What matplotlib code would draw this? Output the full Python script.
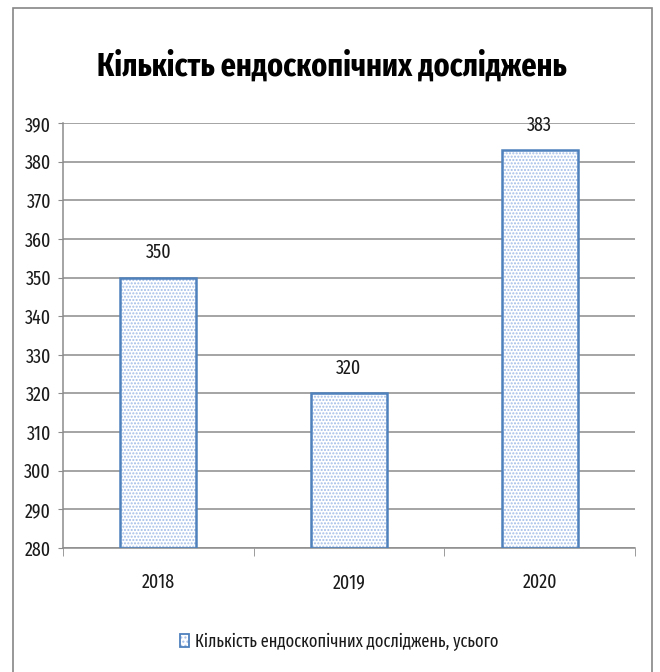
import matplotlib
matplotlib.use("Agg")
import matplotlib.pyplot as plt
from matplotlib.patches import Rectangle

years = ["2018", "2019", "2020"]
counts = [350, 320, 383]
y_ticks = list(range(280, 391, 10))
title = "Кількість ендоскопічних досліджень"
series_name = "Кількість ендоскопічних досліджень, усього"

plt.rcParams["font.family"] = ["Fira Sans Extra Condensed", "DejaVu Sans"]
plt.rcParams["hatch.linewidth"] = 1.0

W, H = 660, 672
fig = plt.figure(figsize=(W / 100, H / 100), dpi=100)

grid_col = "#8c8c8c"
text_col = "#1a1a1a"
dot_col = "#a3bde8"
edge_col = "#4f81bd"

# outer chart frame
fig.patches.append(Rectangle((13 / W, -0.1), (652 - 13) / W, 1.1 - 8 / H,
                             transform=fig.transFigure, fill=False,
                             edgecolor="#868686", linewidth=1.2))

ax = fig.add_axes([63 / W, 1 - 548 / H, (635 - 63) / W, (548 - 123) / H])
x = list(range(len(years)))
heights = [c - y_ticks[0] for c in counts]

ax.bar(x, heights, bottom=y_ticks[0], width=0.4, color="white",
       edgecolor=dot_col, hatch=".....", linewidth=0, zorder=2)
ax.bar(x, heights, bottom=y_ticks[0], width=0.4, fill=False,
       edgecolor=edge_col, linewidth=1.8, zorder=3)

for xi, c in zip(x, counts):
    ax.annotate(str(c), (xi, c), xytext=(0, 14), textcoords="offset points",
                ha="center", va="baseline", fontsize=14, color=text_col)

ax.set_xlim(-0.5, 2.5)
ax.set_ylim(y_ticks[0], y_ticks[-1])
ax.set_yticks(y_ticks)
ax.set_xticks(x)
ax.set_xticklabels(years)
ax.set_xticks([-0.5, 0.5, 1.5, 2.5], minor=True)
ax.yaxis.grid(True, color=grid_col, linewidth=1.1, zorder=0)
ax.set_axisbelow(True)
for s in ["top", "right"]:
    ax.spines[s].set_visible(False)
for s in ["left", "bottom"]:
    ax.spines[s].set_color(grid_col)
    ax.spines[s].set_linewidth(1.1)
ax.tick_params(axis="y", length=3.6, color=grid_col, labelsize=14, pad=5.0,
               labelcolor=text_col)
ax.tick_params(axis="x", which="major", length=0, labelsize=14, pad=17.5,
               labelcolor=text_col)
ax.tick_params(axis="x", which="minor", length=5.8, color=grid_col)

fig.text(331.5 / W, 1 - 76 / H, title, ha="center", va="baseline",
         fontsize=23.5, fontweight="bold", color="black")

# legend
lx, lb = 195 / W, 1 - 647 / H
fig.patches.append(Rectangle((180 / W, 1 - 647 / H), 9 / W, 13 / H,
                             transform=fig.transFigure, facecolor="white",
                             edgecolor=dot_col, hatch="....", linewidth=0))
fig.patches.append(Rectangle((180 / W, 1 - 647 / H), 9 / W, 13 / H,
                             transform=fig.transFigure, fill=False,
                             edgecolor=edge_col, linewidth=1.3))
fig.text(lx, lb, series_name, ha="left", va="baseline", fontsize=12.8, color=text_col)

fig.savefig("out.png", dpi=100)
